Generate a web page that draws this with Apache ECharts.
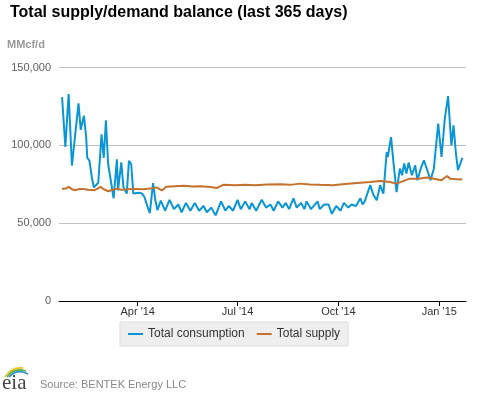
<!DOCTYPE html>
<html>
<head>
<meta charset="utf-8">
<script src="https://cdn.jsdelivr.net/npm/echarts@6/dist/echarts.min.js"></script>
<style>
  html, body { margin: 0; padding: 0; background: #ffffff; }
  #chart { width: 477px; height: 393px; }
</style>
</head>
<body>
<div id="chart"></div>
<script>
// ---- Data ----
const titleText = 'Total supply/demand balance (last 365 days)';
const unitText = 'MMcf/d';
const sourceText = 'Source: BENTEK Energy LLC';
const seriesNames = ['Total consumption', 'Total supply'];

const consumptionDates = [
  '2014-01-22','2014-01-25','2014-01-26','2014-01-28','2014-01-31','2014-02-03','2014-02-06','2014-02-08',
  '2014-02-11','2014-02-13','2014-02-14','2014-02-16','2014-02-18','2014-02-20','2014-02-24','2014-02-27',
  '2014-03-01','2014-03-03','2014-03-05','2014-03-08','2014-03-10','2014-03-13','2014-03-14','2014-03-17',
  '2014-03-19','2014-03-22','2014-03-24','2014-03-26','2014-03-28','2014-04-02','2014-04-05','2014-04-07',
  '2014-04-10','2014-04-12','2014-04-15','2014-04-17','2014-04-19','2014-04-22','2014-04-26','2014-04-30',
  '2014-05-04','2014-05-08','2014-05-11','2014-05-15','2014-05-19','2014-05-23','2014-05-27','2014-05-31',
  '2014-06-03','2014-06-07','2014-06-11','2014-06-16','2014-06-20','2014-06-23','2014-06-27','2014-07-01',
  '2014-07-04','2014-07-08','2014-07-12','2014-07-14','2014-07-18','2014-07-23','2014-07-27','2014-07-31',
  '2014-08-03','2014-08-07','2014-08-11','2014-08-14','2014-08-17','2014-08-21','2014-08-24','2014-08-28',
  '2014-08-31','2014-09-02','2014-09-06','2014-09-12','2014-09-14','2014-09-18','2014-09-22','2014-09-25',
  '2014-09-29','2014-10-03','2014-10-06','2014-10-10','2014-10-13','2014-10-17','2014-10-21','2014-10-23',
  '2014-10-25','2014-10-30','2014-11-02','2014-11-05','2014-11-08','2014-11-11','2014-11-14','2014-11-15',
  '2014-11-18','2014-11-20','2014-11-23','2014-11-26','2014-11-28','2014-11-30','2014-12-02','2014-12-04',
  '2014-12-07','2014-12-10','2014-12-12','2014-12-15','2014-12-18','2014-12-21','2014-12-24','2014-12-27',
  '2014-12-31','2015-01-03','2015-01-06','2015-01-09','2015-01-12','2015-01-14','2015-01-16','2015-01-18',
  '2015-01-22'
];
const consumptionValues = [
  131000, 99000, 98000, 133000, 87000, 107000, 127000, 110000,
  119000, 105000, 92000, 90000, 80000, 73000, 76000, 107000,
  92000, 116000, 88000, 75000, 66000, 91000, 71000, 89000,
  73000, 69000, 90000, 88000, 69000, 69500, 69000, 67000,
  60500, 56500, 75800, 65000, 58300, 64500, 58000, 65000,
  59000, 62000, 57000, 63000, 58000, 63000, 58000, 61000,
  57000, 60000, 55000, 64000, 58000, 61000, 58000, 65000,
  59000, 64000, 59000, 63000, 58000, 65000, 60000, 62000,
  58000, 64000, 60000, 63000, 59000, 66000, 60000, 63000,
  59000, 64000, 59000, 64000, 59000, 62000, 62000, 56000,
  61000, 58000, 63000, 60000, 62000, 61000, 66000, 62000,
  64000, 74400, 68000, 64700, 74400, 69000, 95700, 92500,
  105300, 90400, 70000, 85000, 80800, 88300, 81900, 88900,
  80800, 87200, 77600, 85000, 90400, 84000, 77600, 85000,
  113900, 92500, 117100, 131600, 100000, 112800, 95700, 84000,
  91900
];

const supplyDates = [
  '2014-01-22','2014-01-26','2014-01-28','2014-01-31','2014-02-03','2014-02-07','2014-02-10','2014-02-15',
  '2014-02-20','2014-02-23','2014-02-26','2014-03-01','2014-03-05','2014-03-09','2014-03-13','2014-03-17',
  '2014-03-22','2014-03-26','2014-03-31','2014-04-06','2014-04-12','2014-04-18','2014-04-23','2014-04-27',
  '2014-05-05','2014-05-13','2014-05-21','2014-05-28','2014-06-06','2014-06-12','2014-06-18','2014-06-29',
  '2014-07-08','2014-07-17','2014-07-28','2014-08-09','2014-08-18','2014-08-27','2014-09-05','2014-09-14',
  '2014-09-26','2014-10-07','2014-10-21','2014-10-30','2014-11-08','2014-11-11','2014-11-17','2014-11-23',
  '2014-11-29','2014-12-05','2014-12-13','2014-12-21','2014-12-27','2015-01-03','2015-01-08','2015-01-11',
  '2015-01-14','2015-01-18','2015-01-22'
];
const supplyValues = [
  72000, 72500, 73300, 71800, 71100, 72000, 72000, 71500,
  71100, 72000, 73300, 71800, 70500, 71500, 72200, 71500,
  71600, 72000, 72000, 71800, 72200, 73000, 71000, 73400,
  73700, 74000, 73500, 73700, 73200, 72600, 74600, 74300,
  74600, 74400, 74800, 75000, 74600, 75400, 74800, 74600,
  74400, 75200, 76000, 76400, 77100, 76900, 76500, 75400,
  77000, 78600, 78500, 79300, 78500, 77600, 80300, 78600,
  78400, 78200, 78000
];

const yTickValues = [0, 50000, 100000, 150000];
const xTickDates = ['2014-04-01', '2014-07-01', '2014-10-01', '2015-01-01'];
const xTickLabels = ["Apr '14", "Jul '14", "Oct '14", "Jan '15"];

// ---- Build chart ----
const toTs = d => Date.parse(d + 'T00:00:00Z');
const consumptionData = consumptionDates.map((d, i) => [toTs(d), consumptionValues[i]]);
const supplyData = supplyDates.map((d, i) => [toTs(d), supplyValues[i]]);
const xTickValues = xTickDates.map(toTs);

const chart = echarts.init(document.getElementById('chart'), null, { renderer: 'canvas' });
const FONT = 'Arial, "Liberation Sans", Helvetica, sans-serif';

chart.setOption({
  animation: false,
  backgroundColor: '#ffffff',
  textStyle: { fontFamily: FONT },
  title: {
    text: titleText,
    left: 5,
    top: 0,
    textStyle: { fontFamily: FONT, fontSize: 16, fontWeight: 'bold', color: '#000000' }
  },
  legend: {
    data: seriesNames,
    left: 120,
    top: 322,
    icon: 'rect',
    itemWidth: 15,
    itemHeight: 2,
    itemGap: 12,
    padding: [6, 8, 6, 8],
    backgroundColor: '#eeeeee',
    borderColor: '#dddddd',
    borderWidth: 1,
    borderRadius: 0,
    textStyle: { fontFamily: FONT, fontSize: 12, color: '#333333' }
  },
  grid: { left: 59, right: 11, top: 67.5, bottom: 92, containLabel: false },
  xAxis: {
    type: 'value',
    min: Date.parse('2014-01-19T05:00:00Z'),
    max: Date.parse('2015-01-25T08:00:00Z'),
    splitLine: { show: false },
    axisLine: { show: true, lineStyle: { color: '#000000', width: 1 } },
    axisTick: { show: true, customValues: xTickValues, length: 5, lineStyle: { color: '#000000' } },
    axisLabel: {
      customValues: xTickValues,
      margin: 5,
      fontSize: 11,
      color: '#333333',
      fontFamily: FONT,
      formatter: v => {
        const i = xTickValues.indexOf(v);
        return i >= 0 ? xTickLabels[i] : '';
      }
    }
  },
  yAxis: {
    type: 'value',
    min: 0,
    max: 150000,
    interval: 50000,
    axisLine: { show: false },
    axisTick: { show: false },
    splitLine: { show: true, lineStyle: { color: '#c0c0c0', width: 1 } },
    axisLabel: {
      margin: 8,
      fontSize: 11,
      color: '#606060',
      fontFamily: FONT,
      padding: [5, 0, 0, 0],
      formatter: v => (yTickValues.indexOf(v) >= 0 ? v.toLocaleString('en-US') : '')
    }
  },
  series: [
    {
      name: seriesNames[0],
      type: 'line',
      data: consumptionData,
      showSymbol: false,
      symbol: 'none',
      color: '#0a96d6',
      lineStyle: { width: 2, color: '#0a96d6' },
      z: 2
    },
    {
      name: seriesNames[1],
      type: 'line',
      data: supplyData,
      showSymbol: false,
      symbol: 'none',
      color: '#c3712c',
      lineStyle: { width: 2, color: '#c3712c' },
      z: 3
    }
  ],
  graphic: [
    {
      type: 'text', left: 7, top: 39,
      style: { text: unitText, font: 'bold 11px ' + FONT, fill: '#999999' }
    },
    {
      type: 'text', left: 40, top: 379,
      style: { text: sourceText, font: '11px ' + FONT, fill: '#888888' }
    },
    {
      type: 'text', left: 2, top: 373,
      style: { text: 'eia', font: '21px "Liberation Serif", "DejaVu Serif", serif', fill: '#444444' }
    },
    {
      type: 'bezierCurve',
      shape: { x1: 5, y1: 377, cpx1: 11, cpy1: 367, x2: 23, y2: 368 },
      style: { stroke: '#f0c419', lineWidth: 1.6, fill: null }
    },
    {
      type: 'bezierCurve',
      shape: { x1: 7, y1: 377, cpx1: 14, cpy1: 367, x2: 26, y2: 371 },
      style: { stroke: '#5fae45', lineWidth: 1.6, fill: null }
    },
    {
      type: 'bezierCurve',
      shape: { x1: 9, y1: 377, cpx1: 17, cpy1: 368, x2: 28, y2: 374 },
      style: { stroke: '#2a8fd0', lineWidth: 1.6, fill: null }
    }
  ]
});
</script>
</body>
</html>
